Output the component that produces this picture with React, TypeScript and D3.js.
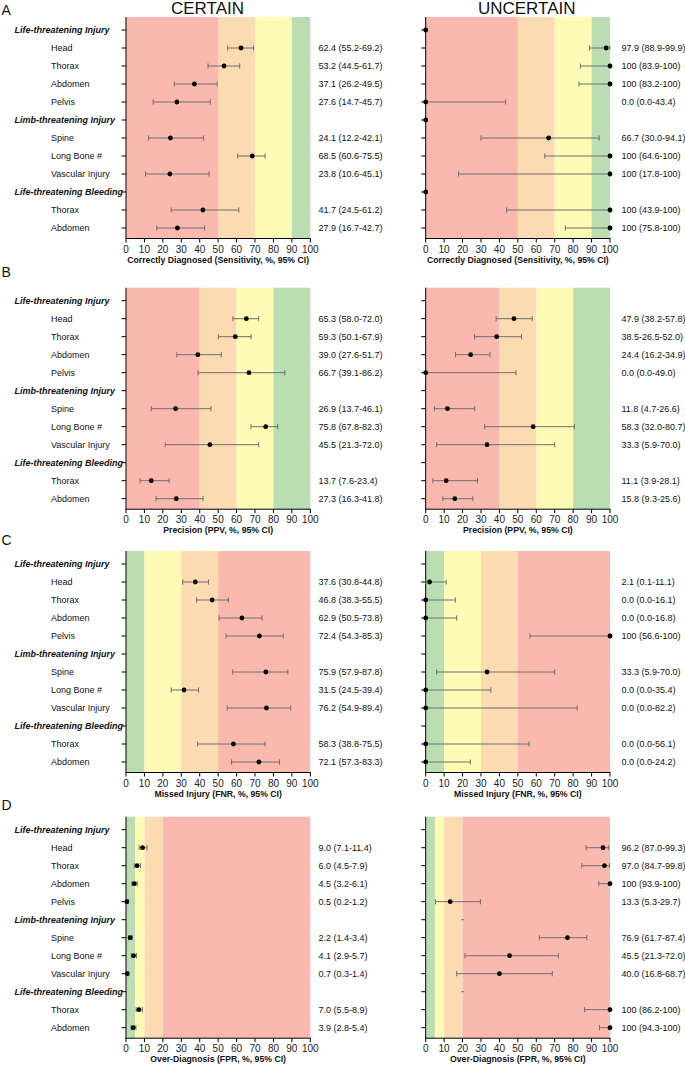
import React from "react";
import * as d3 from "d3";

// ---------- data ----------
const categories = [
  "Life-threatening Injury", "Head", "Thorax", "Abdomen", "Pelvis",
  "Limb-threatening Injury", "Spine", "Long Bone #", "Vascular Injury",
  "Life-threatening Bleeding", "Thorax", "Abdomen",
];
const headerRows = [0, 5, 9];

const columnTitles = ["CERTAIN", "UNCERTAIN"];
const panelLetters = ["A", "B", "C", "D"];
const axisTitles = [
  "Correctly Diagnosed (Sensitivity, %, 95% CI)",
  "Precision (PPV, %, 95% CI)",
  "Missed Injury (FNR, %, 95% CI)",
  "Over-Diagnosis (FPR, %, 95% CI)",
];
const xTicks = [0, 10, 20, 30, 40, 50, 60, 70, 80, 90, 100];

// band thresholds & colours per panel
const aThresholds = [0, 50, 70, 90, 100];
const aBandColors = ["red", "orange", "yellow", "green"];
const bThresholds = [0, 40, 60, 80, 100];
const bBandColors = ["red", "orange", "yellow", "green"];
const cThresholds = [0, 10, 30, 50, 100];
const cBandColors = ["green", "yellow", "orange", "red"];
const dThresholds = [0, 5, 10, 20, 100];
const dBandColors = ["green", "yellow", "orange", "red"];

// Panel A
const aCertEst = [null, 62.4, 53.2, 37.1, 27.6, null, 24.1, 68.5, 23.8, null, 41.7, 27.9];
const aCertLo = [null, 55.2, 44.5, 26.2, 14.7, null, 12.2, 60.6, 10.6, null, 24.5, 16.7];
const aCertHi = [null, 69.2, 61.7, 49.5, 45.7, null, 42.1, 75.5, 45.1, null, 61.2, 42.7];
const aCertText = ["", "62.4 (55.2-69.2)", "53.2 (44.5-61.7)", "37.1 (26.2-49.5)", "27.6 (14.7-45.7)", "", "24.1 (12.2-42.1)", "68.5 (60.6-75.5)", "23.8 (10.6-45.1)", "", "41.7 (24.5-61.2)", "27.9 (16.7-42.7)"];
const aUncEst = [0, 97.9, 100, 100, 0.0, 0, 66.7, 100, 100, 0, 100, 100];
const aUncLo = [null, 88.9, 83.9, 83.2, 0.0, null, 30.0, 64.6, 17.8, null, 43.9, 75.8];
const aUncHi = [null, 99.9, 100, 100, 43.4, null, 94.1, 100, 100, null, 100, 100];
const aUncText = ["", "97.9 (88.9-99.9)", "100 (83.9-100)", "100 (83.2-100)", "0.0 (0.0-43.4)", "", "66.7 (30.0-94.1)", "100 (64.6-100)", "100 (17.8-100)", "", "100 (43.9-100)", "100 (75.8-100)"];

// Panel B
const bCertEst = [null, 65.3, 59.3, 39.0, 66.7, null, 26.9, 75.8, 45.5, null, 13.7, 27.3];
const bCertLo = [null, 58.0, 50.1, 27.6, 39.1, null, 13.7, 67.8, 21.3, null, 7.6, 16.3];
const bCertHi = [null, 72.0, 67.9, 51.7, 86.2, null, 46.1, 82.3, 72.0, null, 23.4, 41.8];
const bCertText = ["", "65.3 (58.0-72.0)", "59.3 (50.1-67.9)", "39.0 (27.6-51.7)", "66.7 (39.1-86.2)", "", "26.9 (13.7-46.1)", "75.8 (67.8-82.3)", "45.5 (21.3-72.0)", "", "13.7 (7.6-23.4)", "27.3 (16.3-41.8)"];
const bUncEst = [null, 47.9, 38.5, 24.4, 0.0, null, 11.8, 58.3, 33.3, null, 11.1, 15.8];
const bUncLo = [null, 38.2, 26.5, 16.2, 0.0, null, 4.7, 32.0, 5.9, null, 3.9, 9.3];
const bUncHi = [null, 57.8, 52.0, 34.9, 49.0, null, 26.6, 80.7, 70.0, null, 28.1, 25.6];
const bUncText = ["", "47.9 (38.2-57.8)", "38.5-26.5-52.0)", "24.4 (16.2-34.9)", "0.0 (0.0-49.0)", "", "11.8 (4.7-26.6)", "58.3 (32.0-80.7)", "33.3 (5.9-70.0)", "", "11.1 (3.9-28.1)", "15.8 (9.3-25.6)"];

// Panel C
const cCertEst = [null, 37.6, 46.8, 62.9, 72.4, null, 75.9, 31.5, 76.2, null, 58.3, 72.1];
const cCertLo = [null, 30.8, 38.3, 50.5, 54.3, null, 57.9, 24.5, 54.9, null, 38.8, 57.3];
const cCertHi = [null, 44.8, 55.5, 73.8, 85.3, null, 87.8, 39.4, 89.4, null, 75.5, 83.3];
const cCertText = ["", "37.6 (30.8-44.8)", "46.8 (38.3-55.5)", "62.9 (50.5-73.8)", "72.4 (54.3-85.3)", "", "75.9 (57.9-87.8)", "31.5 (24.5-39.4)", "76.2 (54.9-89.4)", "", "58.3 (38.8-75.5)", "72.1 (57.3-83.3)"];
const cUncEst = [null, 2.1, 0.0, 0.0, 100, null, 33.3, 0.0, 0.0, null, 0.0, 0.0];
const cUncLo = [null, 0.1, 0.0, 0.0, 56.6, null, 5.9, 0.0, 0.0, null, 0.0, 0.0];
const cUncHi = [null, 11.1, 16.1, 16.8, 100, null, 70.0, 35.4, 82.2, null, 56.1, 24.2];
const cUncText = ["", "2.1 (0.1-11.1)", "0.0 (0.0-16.1)", "0.0 (0.0-16.8)", "100 (56.6-100)", "", "33.3 (5.9-70.0)", "0.0 (0.0-35.4)", "0.0 (0.0-82.2)", "", "0.0 (0.0-56.1)", "0.0 (0.0-24.2)"];

// Panel D
const dCertEst = [null, 9.0, 6.0, 4.5, 0.5, null, 2.2, 4.1, 0.7, null, 7.0, 3.9];
const dCertLo = [null, 7.1, 4.5, 3.2, 0.2, null, 1.4, 2.9, 0.3, null, 5.5, 2.8];
const dCertHi = [null, 11.4, 7.9, 6.1, 1.2, null, 3.4, 5.7, 1.4, null, 8.9, 5.4];
const dCertText = ["", "9.0 (7.1-11.4)", "6.0 (4.5-7.9)", "4.5 (3.2-6.1)", "0.5 (0.2-1.2)", "", "2.2 (1.4-3.4)", "4.1 (2.9-5.7)", "0.7 (0.3-1.4)", "", "7.0 (5.5-8.9)", "3.9 (2.8-5.4)"];
const dUncEst = [null, 96.2, 97.0, 100, 13.3, null, 76.9, 45.5, 40.0, null, 100, 100];
const dUncLo = [null, 87.0, 84.7, 93.9, 5.3, null, 61.7, 21.3, 16.8, null, 86.2, 94.3];
const dUncHi = [null, 99.3, 99.8, 100, 29.7, null, 87.4, 72.0, 68.7, null, 100, 100];
const dUncText = ["", "96.2 (87.0-99.3)", "97.0 (84.7-99.8)", "100 (93.9-100)", "13.3 (5.3-29.7)", "", "76.9 (61.7-87.4)", "45.5 (21.3-72.0)", "40.0 (16.8-68.7)", "", "100 (86.2-100)", "100 (94.3-100)"];
const dUncStray = [null, null, null, null, null, 20, null, null, null, 20, null, null];

// ---------- styles ----------
const COLORS: Record<string, string> = {
  red: "#fbb8ae",
  orange: "#fcdab2",
  yellow: "#fefbb6",
  green: "#badeb2",
};
const FONT = "'Liberation Sans', Arial, Helvetica, sans-serif";

const panelFirstRow = [30, 300.7, 564, 829.7];
const ROW_STEP = 18;
const colX0 = [126, 425.7];
const colW = 184.3;
const valueTextX = [318.5, 621.5];

type Series = {
  est: (number | null)[];
  lo: (number | null)[];
  hi: (number | null)[];
  text: string[];
  stray?: (number | null)[];
};

const panels = [
  {
    thresholds: aThresholds, colors: aBandColors,
    series: [
      { est: aCertEst, lo: aCertLo, hi: aCertHi, text: aCertText },
      { est: aUncEst, lo: aUncLo, hi: aUncHi, text: aUncText },
    ] as Series[],
  },
  {
    thresholds: bThresholds, colors: bBandColors,
    series: [
      { est: bCertEst, lo: bCertLo, hi: bCertHi, text: bCertText },
      { est: bUncEst, lo: bUncLo, hi: bUncHi, text: bUncText },
    ] as Series[],
  },
  {
    thresholds: cThresholds, colors: cBandColors,
    series: [
      { est: cCertEst, lo: cCertLo, hi: cCertHi, text: cCertText },
      { est: cUncEst, lo: cUncLo, hi: cUncHi, text: cUncText },
    ] as Series[],
  },
  {
    thresholds: dThresholds, colors: dBandColors,
    series: [
      { est: dCertEst, lo: dCertLo, hi: dCertHi, text: dCertText },
      { est: dUncEst, lo: dUncLo, hi: dUncHi, text: dUncText, stray: dUncStray },
    ] as Series[],
  },
];

function Plot({ pi, ci }: { pi: number; ci: number }) {
  const panel = panels[pi];
  const s = panel.series[ci];
  const first = panelFirstRow[pi];
  const y = d3.scaleLinear().domain([0, categories.length - 1]).range([first, first + ROW_STEP * (categories.length - 1)]);
  const top = first - 13;
  const bottom = y(categories.length - 1) + 10.5;
  const x = d3.scaleLinear().domain([0, 100]).range([colX0[ci], colX0[ci] + colW]);
  const capH = 2.6;

  return (
    <g>
      {/* bands */}
      {panel.colors.map((c, i) => (
        <rect key={"b" + i} x={x(panel.thresholds[i])} y={top}
          width={x(panel.thresholds[i + 1]) - x(panel.thresholds[i])}
          height={bottom - top} fill={COLORS[c]} />
      ))}
      {/* left axis */}
      <line x1={x(0)} x2={x(0)} y1={top} y2={bottom} stroke="#000" strokeWidth={1} />
      {categories.map((_, i) => (
        <line key={"yt" + i} x1={x(0) - 4.5} x2={x(0)} y1={y(i)} y2={y(i)} stroke="#000" strokeWidth={1} />
      ))}
      {/* bottom axis */}
      <line x1={x(0) - 0.5} x2={x(100) + 0.5} y1={bottom} y2={bottom} stroke="#000" strokeWidth={1} />
      {xTicks.map((t) => (
        <g key={"xt" + t}>
          <line x1={x(t)} x2={x(t)} y1={bottom} y2={bottom + 4} stroke="#000" strokeWidth={1} />
          <text x={x(t)} y={bottom + 14} textAnchor="middle" fontSize={10} fontFamily={FONT} fill="#222">{t}</text>
        </g>
      ))}
      <text x={(x(0) + x(100)) / 2} y={bottom + 24} textAnchor="middle" fontSize={8.7} fontWeight="bold" fontFamily={FONT} fill="#111">
        {axisTitles[pi]}
      </text>
      {/* category labels (only on left column) */}
      {ci === 0 && categories.map((c, i) => {
        const hdr = headerRows.includes(i);
        return (
          <text key={"c" + i} x={hdr ? 14.5 : 51} y={y(i) + 3.2} fontSize={9} fontFamily={FONT}
            fontWeight={hdr ? "bold" : "normal"} fontStyle={hdr ? "italic" : "normal"} fill="#111">{c}</text>
        );
      })}
      {/* error bars */}
      {categories.map((_, i) => {
        const lo = s.lo[i];
        const hi = s.hi[i];
        if (lo == null || hi == null) return null;
        return (
          <g key={"e" + i} stroke="#6f6f6f" strokeWidth={1}>
            <line x1={x(lo)} x2={x(hi)} y1={y(i)} y2={y(i)} />
            <line x1={x(lo)} x2={x(lo)} y1={y(i) - capH} y2={y(i) + capH} />
            <line x1={x(hi)} x2={x(hi)} y1={y(i) - capH} y2={y(i) + capH} />
          </g>
        );
      })}
      {s.stray && categories.map((_, i) => {
        const v = s.stray![i];
        if (v == null) return null;
        return <line key={"s" + i} x1={x(v) - 1} x2={x(v) + 1} y1={y(i)} y2={y(i)} stroke="#555" strokeWidth={1} />;
      })}
      {/* dots */}
      {categories.map((_, i) => {
        const v = s.est[i];
        if (v == null) return null;
        return <circle key={"d" + i} cx={x(v)} cy={y(i)} r={2.4} fill="#000" />;
      })}
      {/* value labels */}
      {categories.map((_, i) => s.text[i] ? (
        <text key={"v" + i} x={valueTextX[ci]} y={y(i) + 3} fontSize={9} fontFamily={FONT} fill="#111">{s.text[i]}</text>
      ) : null)}
    </g>
  );
}

export default function App() {
  const panelLetterY = [15, 276.7, 545, 810];
  return (
    <svg width={685} height={1065} style={{ position: "absolute", left: 0, top: 0, background: "#fff" }}
      xmlns="http://www.w3.org/2000/svg">
      <rect x={0} y={0} width={685} height={1065} fill="#fff" />
      <text x={207.5} y={14} textAnchor="middle" fontSize={17} fontFamily={FONT} fill="#111">{columnTitles[0]}</text>
      <text x={526.7} y={14} textAnchor="middle" fontSize={17} fontFamily={FONT} fill="#111">{columnTitles[1]}</text>
      {panelLetters.map((l, i) => (
        <text key={l} x={1.5} y={panelLetterY[i]} fontSize={14} fontFamily={FONT} fill="#111">{l}</text>
      ))}
      {panels.map((_, pi) => (
        <g key={pi}>
          <Plot pi={pi} ci={0} />
          <Plot pi={pi} ci={1} />
        </g>
      ))}
    </svg>
  );
}
